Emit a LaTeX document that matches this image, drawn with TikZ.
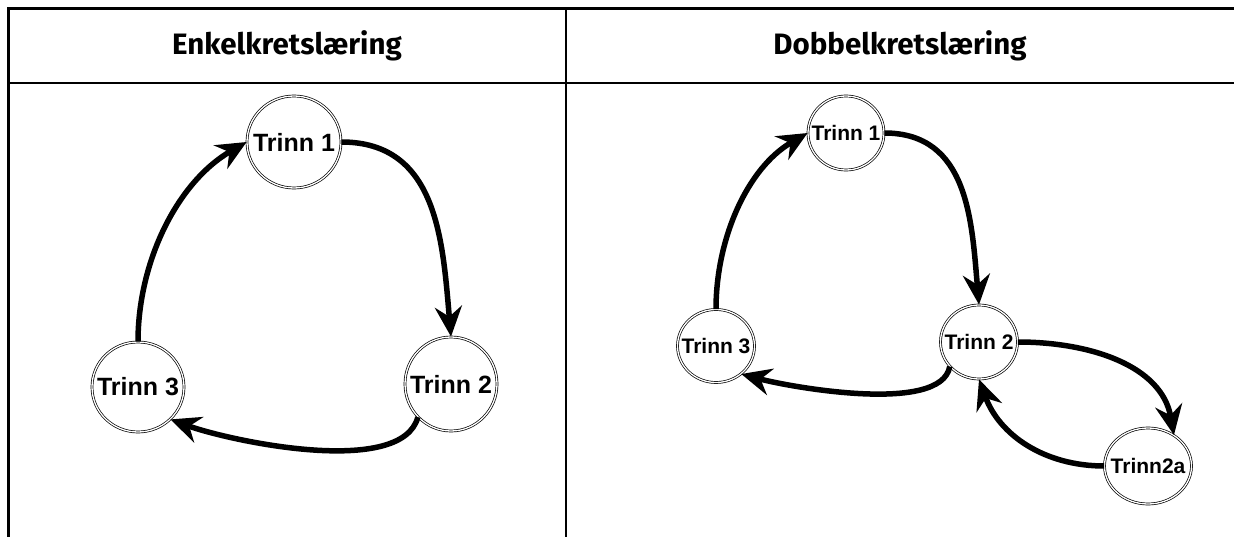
\documentclass[tikz,border=0pt]{standalone}
\usepackage{fontspec}
\setmainfont{Liberation Sans}
\newfontfamily\headfont{Fira Sans}
\usetikzlibrary{shapes.geometric,arrows.meta}
\begin{document}
\begin{tikzpicture}[x=1pt,y=1pt,
  rule/.style={line width=2.4pt},
  head/.style={font=\headfont\bfseries\fontsize{29.5}{34}\selectfont},
  stage/.style={ellipse,draw=black,double=white,double distance=1.3pt,line width=0.7pt,
    inner sep=0pt,label={[font=\bfseries\fontsize{25}{30}\selectfont,inner sep=0pt]center:#1}},
  smallstage/.style={ellipse,draw=black,double=white,double distance=1.3pt,line width=0.7pt,
    inner sep=0pt,label={[font=\bfseries\fontsize{21}{26}\selectfont,inner sep=0pt]center:#1}},
  flow/.style={line width=5.5pt,-{Stealth[length=30pt,width=27pt,inset=10pt]}}]
\useasboundingbox (0,0) rectangle (1234,-537);
% table frame
\draw[rule] (8.5,-537) -- (8.5,-8.5) -- (1234,-8.5);
\draw[rule] (8.5,-83) -- (1234,-83);
\draw[rule] (566,-8.5) -- (566,-537);
\node[head] (h1) at (287,-46) {Enkelkretslæring};
\node[head] (h2) at (900,-46) {Dobbelkretslæring};
% single loop
\node[stage={Trinn 1},minimum width=94pt,minimum height=92pt] (l1) at (294,-142) {};
\node[stage={Trinn 2},minimum width=92pt,minimum height=94pt] (l2) at (451,-384) {};
\node[stage={Trinn 3},minimum width=92pt,minimum height=90pt] (l3) at (138,-387) {};
\draw[flow] (l3.north) to[out=90,in=210,looseness=0.9] (l1.west);
\draw[flow] (l1.east) to[out=0,in=95,looseness=1.1] (l2.north);
\draw[flow] (l2.-135) to[out=-105,in=-20,looseness=0.65] (l3.-45);
% double loop
\node[smallstage={Trinn 1},minimum width=76pt,minimum height=74pt] (r1) at (846,-133) {};
\node[smallstage={Trinn 2},minimum width=77pt,minimum height=74pt] (r2) at (979,-342) {};
\node[smallstage={Trinn 3},minimum width=77pt,minimum height=73pt] (r3) at (716,-346) {};
\node[smallstage={Trinn2a},minimum width=87pt,minimum height=76pt] (r2a) at (1148,-466) {};
\draw[flow] (r3.north) to[out=90,in=210,looseness=0.9] (r1.west);
\draw[flow] (r1.east) to[out=0,in=95,looseness=1.1] (r2.north);
\draw[flow] (r2.-140) to[out=-100,in=-15,looseness=0.6] (r3.-48);
\draw[flow] (r2.east) to[out=0,in=100] (r2a.50);
\draw[flow] (r2a.west) to[out=180,in=-70] (r2.south);
\end{tikzpicture}
\end{document}
